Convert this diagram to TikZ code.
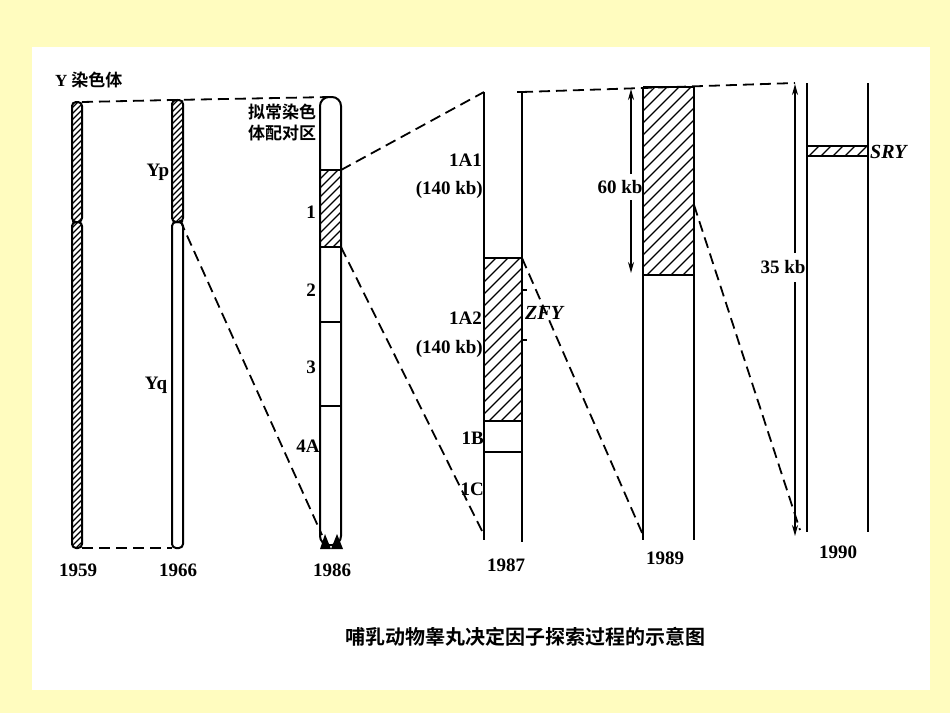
\documentclass[tikz,border=0pt]{standalone}
\usepackage{fontspec}
\setmainfont{Liberation Serif}
\newfontfamily\cjk{Noto Sans CJK SC}[BoldFont=Noto Sans CJK SC Bold]
\usetikzlibrary{arrows.meta}
\newcommand{\hatchbox}[5]{%
 \begin{scope}
 \clip (#1,#2) rectangle (#3,#4);
 \pgfmathsetmacro{\hh}{#4-#2}
 \pgfmathsetmacro{\ts}{#1-\hh}
 \pgfmathsetmacro{\tn}{#1-\hh+#5}
 \foreach \t in {\ts,\tn,...,#3} \draw[hl] (\t,#4) -- ++(\hh,-\hh);
 \end{scope}}
\begin{document}
\begin{tikzpicture}[x=1pt,y=-1pt,
 ln/.style={line width=2pt,black},
 hl/.style={line width=1.2pt,black},
 dsh/.style={line width=1.8pt,dash pattern=on 11pt off 6pt},
 arr/.style={line width=1.6pt,-{Stealth[length=11pt,width=6pt]}},
 lbl/.style={font=\bfseries\fontsize{19}{19}\selectfont,inner sep=1pt},
 ital/.style={font=\bfseries\itshape\fontsize{20}{20}\selectfont,inner sep=1pt},
 cj/.style={font=\cjk\bfseries\fontsize{17}{21}\selectfont,inner sep=1pt,align=center}]
\fill[yellow!25!white] (0,0) rectangle (950,713);
\fill[white] (32,47) rectangle (930,690);
\useasboundingbox (0,0) rectangle (950,713);
% 1959
\hatchbox{72}{102}{82}{222}{6}
\hatchbox{72}{222}{82}{548}{6}
\draw[ln,rounded corners=4pt] (72,102) rectangle (82,222);
\draw[ln,rounded corners=4pt] (72,222) rectangle (82,548);
\coordinate (a1) at (82,102); \coordinate (a2) at (82,548);
% 1966
\hatchbox{172}{100}{183}{222}{6}
\draw[ln,rounded corners=4pt] (172,100) rectangle (183,222);
\draw[ln,rounded corners=4pt] (172,222) rectangle (183,548);
\coordinate (b1) at (172,100); \coordinate (b2) at (172,548); \coordinate (b3) at (180,220);
% 1986
\hatchbox{320}{170}{341}{247}{9}
\draw[ln,rounded corners=9pt] (320,97) rectangle (341,545);
\draw[ln] (320,170) -- (341,170) (320,247) -- (341,247) (320,322) -- (341,322) (320,406) -- (341,406);
\fill (320,549) -- (325,534) -- (331,549) -- cycle;
\fill (331,549) -- (337,534) -- (343,549) -- cycle;
\coordinate (c0) at (330,97); \coordinate (c1) at (341,170); \coordinate (c2) at (341,247); \coordinate (c3) at (322,535);
% 1987
\hatchbox{484}{258}{522}{421}{12}
\draw[ln] (484,92) -- (484,540) (522,92) -- (522,542) (517,92) -- (527,92);
\draw[ln] (484,258) -- (522,258) (484,421) -- (522,421) (484,452) -- (522,452);
\draw[ln] (522,290) -- (527,290) (522,340) -- (527,340);
\coordinate (d1) at (484,92); \coordinate (d2) at (484,535); \coordinate (d3) at (522,92); \coordinate (d4) at (522,258);
% 1989
\hatchbox{643}{87}{694}{275}{12}
\draw[ln] (643,87) -- (643,540) (694,87) -- (694,540) (643,87) -- (694,87) (643,275) -- (694,275);
\coordinate (e1) at (643,535); \coordinate (e2) at (694,205);
\node[lbl] (k60) at (620,187) {60 kb};
\draw[arr] (631,174) -- (631,89);
\draw[arr] (631,200) -- (631,273);
% 1990
\draw[arr] (795,253) -- (795,84);
\draw[arr] (795,282) -- (795,536);
\node[lbl] (k35) at (783,267) {35 kb};
\hatchbox{807}{146}{868}{156}{12}
\draw[ln] (807,83) -- (807,532) (868,83) -- (868,532) (807,146) -- (868,146) (807,156) -- (868,156);
\coordinate (f0) at (795,83); \coordinate (f1) at (800,530);
% dashed connectors
\draw[dsh] (a1) -- (b1) -- (c0);
\draw[dsh] (a2) -- (b2);
\draw[dsh] (b3) -- (c3);
\draw[dsh] (c1) -- (d1);
\draw[dsh] (c2) -- (d2);
\draw[dsh] (d3) -- (f0);
\draw[dsh] (d4) -- (e1);
\draw[dsh] (e2) -- (f1);
% labels
\node[cj,anchor=west] (t1) at (54,80) {{\rmfamily\bfseries Y} 染色体};
\node[cj] (t2) at (282,122) {拟常染色\\体配对区};
\node[lbl] (yp) at (158,172) {Yp};
\node[lbl] (yq) at (156,385) {Yq};
\node[lbl] (n1) at (311,212) {1};
\node[lbl] (n2) at (311,290) {2};
\node[lbl] (n3) at (311,367) {3};
\node[lbl] (n4) at (308,446) {4A};
\node[lbl,anchor=east] (l1) at (483,160) {1A1};
\node[lbl,anchor=east] (l2) at (484,190) {(140 kb)};
\node[lbl,anchor=east] (l3) at (483,318) {1A2};
\node[lbl,anchor=east] (l4) at (484,349) {(140 kb)};
\node[lbl,anchor=east] (l5) at (485,438) {1B};
\node[lbl,anchor=east] (l6) at (485,489) {1C};
\node[ital,anchor=west] (zfy) at (524,313) {ZFY};
\node[ital,anchor=west] (sry) at (869,152) {SRY};
\node[lbl] (y1) at (78,570) {1959};
\node[lbl] (y2) at (178,570) {1966};
\node[lbl] (y3) at (332,570) {1986};
\node[lbl] (y4) at (506,565) {1987};
\node[lbl] (y5) at (665,558) {1989};
\node[lbl] (y6) at (838,552) {1990};
\node[cj,font=\cjk\bfseries\fontsize{20}{24}\selectfont] (cap) at (525,637) {哺乳动物睾丸决定因子探索过程的示意图};
\end{tikzpicture}
\end{document}
